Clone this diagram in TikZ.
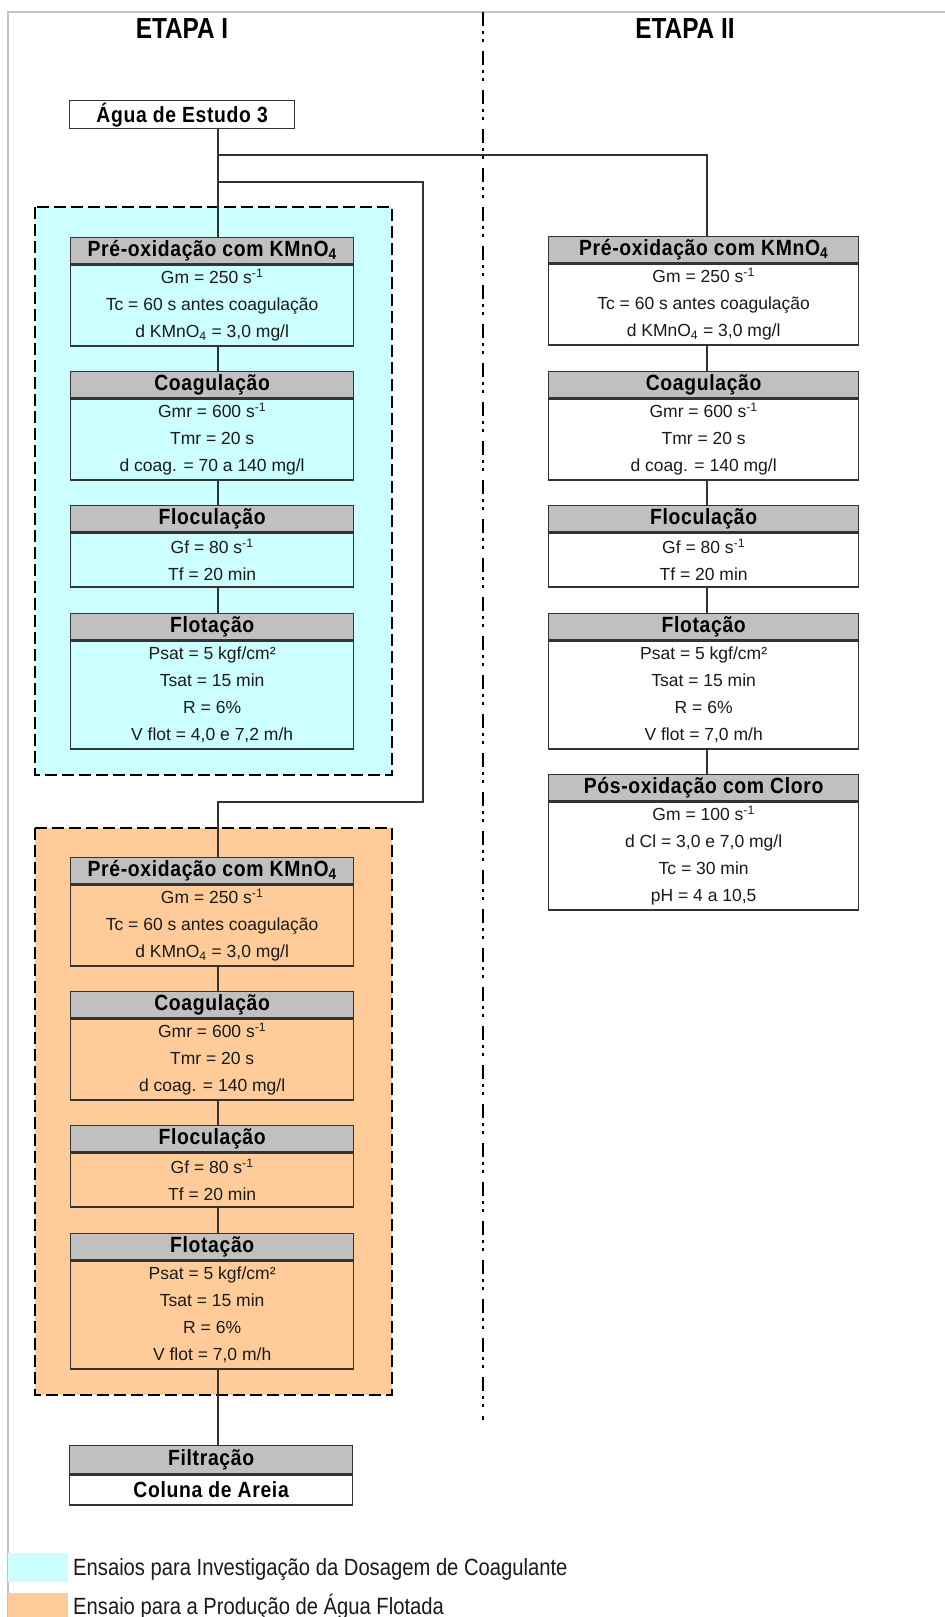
\documentclass[tikz,border=0pt]{standalone}
\usepackage{fontspec}
\setmainfont{Liberation Sans}
\newfontfamily\titlefont{Liberation Sans}[FakeStretch=0.84]
\newfontfamily\headfont{Liberation Sans}[FakeStretch=0.88, LetterSpace=3]
\newfontfamily\legendfont{Liberation Sans}[FakeStretch=0.86]

\definecolor{cyanfill}{HTML}{CCFFFF}
\definecolor{orangefill}{HTML}{FFCC99}
\definecolor{headgray}{HTML}{C0C0C0}
\definecolor{edge}{HTML}{333333}
\definecolor{framegray}{HTML}{C4C4C4}
\definecolor{ink}{HTML}{1A1A1A}

\tikzset{
  head/.style={draw=edge, line width=1.3pt, fill=headgray, minimum height=26pt,
    inner sep=0pt, anchor=north west, text=black, font=\headfont\fontsize{22}{24}\selectfont\bfseries},
  body/.style={draw=edge, line width=1.3pt, inner sep=0pt, align=center, text=ink,
    anchor=north west, font=\fontsize{17.5}{27}\selectfont},
  conn/.style={draw=edge, line width=1.3pt},
  group/.style={line width=2.6pt, dash pattern=on 12pt off 5pt},
  divider/.style={line width=2.8pt, dash pattern=on 14pt off 5pt on 3pt off 5pt on 3pt off 9pt},
  etapa/.style={font=\titlefont\fontsize{29}{32}\selectfont\bfseries},
  legendtext/.style={anchor=west, inner sep=0pt, text=ink, font=\legendfont\fontsize{23.5}{26}\selectfont}
}

% one process step: gray title bar with the parameter list underneath
% #1 name, #2 x, #3 y, #4 width, #5 fill, #6 title, #7 number of lines, #8 lines
\newcommand\stagebox[8]{%
  \node[head, minimum width=#4] (#1h) at (#2,#3) {#6};
  \node[body, fill=#5, minimum width=#4, minimum height=#7*27pt] (#1) at (#1h.south west) {#8};
}
\newcommand\sm[1]{\textsuperscript{#1}}

\begin{document}
\begin{tikzpicture}[x=1pt,y=-1pt]
\useasboundingbox (0,0) rectangle (945,1617);

% page frame
\draw[framegray, line width=1.5pt] (8,1617) -- (8,12) -- (945,12);

% stage divider
\draw[divider] (483,12) -- (483,1420);
\node[etapa] (etapa1) at (182,29) {ETAPA I};
\node[etapa] (etapa2) at (685,29) {ETAPA II};

% grouping frames
\fill[cyanfill] (35,207) rectangle (392,775);
\fill[orangefill] (35,828) rectangle (392,1395);
\draw[group] (35,207) rectangle (392,775);
\draw[group] (35,828) rectangle (392,1395);

% raw water
\node[head, fill=white, minimum width=225pt, minimum height=28pt]
  (water) at (69,100) {Água de Estudo 3};

% ETAPA I - coagulant dosage tests
\stagebox{pA}{70}{237}{283pt}{cyanfill}{Pré-oxidação com KMnO\textsubscript{4}}{3}
  {Gm = 250 s\sm{-1}\\Tc = 60 s antes coagulação\\d KMnO\textsubscript{4} = 3,0 mg/l}
\stagebox{cA}{70}{371}{283pt}{cyanfill}{Coagulação}{3}
  {Gmr = 600 s\sm{-1}\\Tmr = 20 s\\d coag. = 70 a 140 mg/l}
\stagebox{fA}{70}{505}{283pt}{cyanfill}{Floculação}{2}
  {Gf = 80 s\sm{-1}\\Tf = 20 min}
\stagebox{tA}{70}{613}{283pt}{cyanfill}{Flotação}{4}
  {Psat = 5 kgf/cm²\\Tsat = 15 min\\R = 6\%\\V flot = 4,0 e 7,2 m/h}

% ETAPA I - production of floated water
\stagebox{pC}{70}{857}{283pt}{orangefill}{Pré-oxidação com KMnO\textsubscript{4}}{3}
  {Gm = 250 s\sm{-1}\\Tc = 60 s antes coagulação\\d KMnO\textsubscript{4} = 3,0 mg/l}
\stagebox{cC}{70}{991}{283pt}{orangefill}{Coagulação}{3}
  {Gmr = 600 s\sm{-1}\\Tmr = 20 s\\d coag. = 140 mg/l}
\stagebox{fC}{70}{1125}{283pt}{orangefill}{Floculação}{2}
  {Gf = 80 s\sm{-1}\\Tf = 20 min}
\stagebox{tC}{70}{1233}{283pt}{orangefill}{Flotação}{4}
  {Psat = 5 kgf/cm²\\Tsat = 15 min\\R = 6\%\\V flot = 7,0 m/h}

% filtration
\node[head, minimum width=283pt, minimum height=28pt] (filth) at (69,1445) {Filtração};
\node[head, fill=white, minimum width=283pt, minimum height=30pt] (filt) at (filth.south west) {Coluna de Areia};

% ETAPA II
\stagebox{pB}{548}{236}{310pt}{white}{Pré-oxidação com KMnO\textsubscript{4}}{3}
  {Gm = 250 s\sm{-1}\\Tc = 60 s antes coagulação\\d KMnO\textsubscript{4} = 3,0 mg/l}
\stagebox{cB}{548}{371}{310pt}{white}{Coagulação}{3}
  {Gmr = 600 s\sm{-1}\\Tmr = 20 s\\d coag. = 140 mg/l}
\stagebox{fB}{548}{505}{310pt}{white}{Floculação}{2}
  {Gf = 80 s\sm{-1}\\Tf = 20 min}
\stagebox{tB}{548}{613}{310pt}{white}{Flotação}{4}
  {Psat = 5 kgf/cm²\\Tsat = 15 min\\R = 6\%\\V flot = 7,0 m/h}
\stagebox{oB}{548}{774}{310pt}{white}{Pós-oxidação com Cloro}{4}
  {Gm = 100 s\sm{-1}\\d Cl = 3,0 e 7,0 mg/l\\Tc = 30 min\\pH = 4 a 10,5}

% connector lanes
\coordinate (tx) at (218,0);
\coordinate (rx) at (707,0);
\coordinate (split1) at (218,155);
\coordinate (split2) at (218,182);
\coordinate (bend) at (423,802);

\draw[conn] (water.south -| tx) -- (pAh.north -| tx);
\draw[conn] (split1) -| (pBh.north -| rx);
\draw[conn] (split2) -| (bend) -| (pCh.north -| tx);

\foreach \a/\b in {pA/cAh, cA/fAh, fA/tAh, pC/cCh, cC/fCh, fC/tCh, tC/filth}
  \draw[conn] (\a.south -| tx) -- (\b.north -| tx);
\foreach \a/\b in {pB/cBh, cB/fBh, fB/tBh, tB/oBh}
  \draw[conn] (\a.south -| rx) -- (\b.north -| rx);

% legend
\fill[cyanfill] (8,1553) rectangle (68,1582);
\fill[orangefill] (8,1593) rectangle (68,1617);
\node[legendtext] (leg1) at (73,1569) {Ensaios para Investigação da Dosagem de Coagulante};
\node[legendtext] (leg2) at (73,1607) {Ensaio para a Produção de Água Flotada};
\end{tikzpicture}
\end{document}
